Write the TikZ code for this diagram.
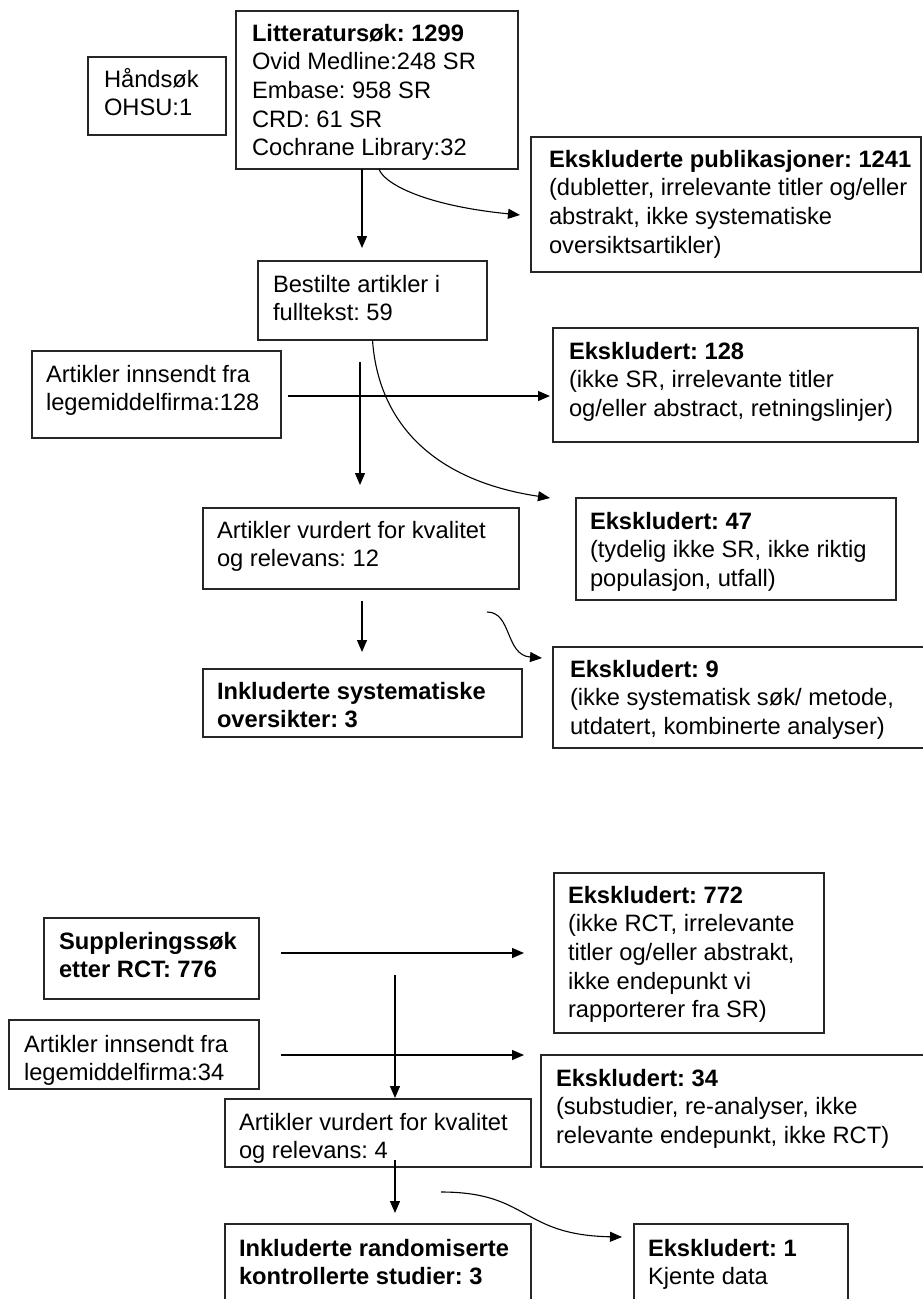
\documentclass[tikz,border=0pt]{standalone}
\usepackage{fontspec}
\setmainfont{Liberation Sans}
\usetikzlibrary{arrows.meta,calc}
\frenchspacing
\newcommand{\fsz}{\fontsize{23.7pt}{28.7pt}\selectfont\frenchspacing}
\newcommand{\mystrut}{\rule{0pt}{22pt}}
\tikzset{
  box/.style={draw=black!85, line width=1.3pt, anchor=north west, inner sep=0pt, outer sep=0pt},
  txt/.style={anchor=north west, inner sep=0pt, outer sep=0pt, align=left, font=\fsz, text=black},
  arr/.style={draw=black, line width=1.3pt, -{Triangle[length=12pt,width=10pt]}},
  carr/.style={draw=black, line width=1.1pt, -{Triangle[length=12pt,width=10pt]}},
}
\begin{document}
\begin{tikzpicture}[x=1pt,y=-1pt]
\useasboundingbox (0,0) rectangle (923,1299);
\fill[white] (0,0) rectangle (923,1299);
\clip (0,0) rectangle (923,1299);

% ---------- boxes ----------
\node[box, minimum width=138pt, minimum height=78pt]  (hand)    at (88,57)   {};
\node[box, minimum width=282pt, minimum height=158pt] (lit)     at (236,11)  {};
\node[box, minimum width=390pt, minimum height=135pt] (eks1241) at (531,137) {};
\node[box, minimum width=229pt, minimum height=79pt]  (best)    at (258,261) {};
\node[box, minimum width=249pt, minimum height=87pt]  (art128)  at (32,351)  {};
\node[box, minimum width=365pt, minimum height=114pt] (eks128)  at (553,328) {};
\node[box, minimum width=316pt, minimum height=81pt]  (vur12)   at (203,508) {};
\node[box, minimum width=320pt, minimum height=102pt] (eks47)   at (576,498) {};
\node[box, minimum width=319pt, minimum height=68pt]  (inkSR)   at (203,669) {};
\node[box, minimum width=380pt, minimum height=101pt] (eks9)    at (553,647) {};
\node[box, minimum width=215pt, minimum height=81pt]  (supp)    at (44,918)  {};
\node[box, minimum width=270pt, minimum height=160pt] (eks772)  at (554,873) {};
\node[box, minimum width=250pt, minimum height=69pt]  (art34)   at (9,1020)  {};
\node[box, minimum width=392pt, minimum height=112pt] (eks34)   at (541,1055) {};
\node[box, minimum width=306pt, minimum height=68pt]  (vur4)    at (225,1099) {};
\node[box, minimum width=306pt, minimum height=90pt]  (inkRCT)  at (225,1224) {};
\node[box, minimum width=214pt, minimum height=90pt]  (eks1)    at (634,1224) {};

% ---------- texts ----------
\node[txt] (handT) at (104,65) {\mystrut Håndsøk\\OHSU:1};
\node[txt] (litT) at (252,19) {\mystrut\textbf{Litteratursøk: 1299}\\Ovid Medline:248 SR\\Embase: 958 SR\\CRD: 61 SR\\Cochrane Library:32};
\node[txt] (eks1241T) at (549,145) {\mystrut\textbf{Ekskluderte publikasjoner: 1241}\\(dubletter, irrelevante titler og/eller\\abstrakt, ikke systematiske\\oversiktsartikler)};
\node[txt] (bestT) at (273,270) {\mystrut Bestilte artikler i\\fulltekst: 59};
\node[txt] (art128T) at (46,360) {\mystrut Artikler innsendt fra\\legemiddelfirma:128};
\node[txt] (eks128T) at (569,337) {\mystrut\textbf{Ekskludert: 128}\\(ikke SR, irrelevante titler\\og/eller abstract, retningslinjer)};
\node[txt] (vur12T) at (217,516) {\mystrut Artikler vurdert for kvalitet\\og relevans: 12};
\node[txt] (eks47T) at (590,507) {\mystrut\textbf{Ekskludert: 47}\\(tydelig ikke SR, ikke riktig\\populasjon, utfall)};
\node[txt] (inkSRT) at (217,677) {\mystrut\textbf{Inkluderte systematiske}\\\textbf{oversikter: 3}};
\node[txt] (eks9T) at (570,655) {\mystrut\textbf{Ekskludert: 9}\\(ikke systematisk søk/ metode,\\utdatert, kombinerte analyser)};
\node[txt] (suppT) at (59,927) {\mystrut\textbf{Suppleringssøk}\\\textbf{etter RCT: 776}};
\node[txt] (eks772T) at (568,881) {\mystrut\textbf{Ekskludert: 772}\\(ikke RCT, irrelevante\\titler og/eller abstrakt,\\ikke endepunkt vi\\rapporterer fra SR)};
\node[txt] (art34T) at (24,1030) {\mystrut Artikler innsendt fra\\legemiddelfirma:34};
\node[txt] (eks34T) at (556,1064) {\mystrut\textbf{Ekskludert: 34}\\(substudier, re-analyser, ikke\\relevante endepunkt, ikke RCT)};
\node[txt] (vur4T) at (239,1108) {\mystrut Artikler vurdert for kvalitet\\og relevans: 4};
\node[txt] (inkRCTT) at (239,1234) {\mystrut\textbf{Inkluderte randomiserte}\\\textbf{kontrollerte studier: 3}};
\node[txt] (eks1T) at (648,1234) {\mystrut\textbf{Ekskludert: 1}\\Kjente data};

% ---------- connector end points ----------
\coordinate (a1) at (362,248);
\coordinate (b1) at (520,215);
\coordinate (c1) at (550,498);
\coordinate (d0) at (288,396);
\coordinate (d1) at (550,396);
\coordinate (e0) at (360,362);
\coordinate (e1) at (360,485);
\coordinate (f0) at (362,601);
\coordinate (f1) at (362,652);
\coordinate (g0) at (487,612);
\coordinate (g1) at (542,658);
\coordinate (h0) at (281,953);
\coordinate (h1) at (524,953);
\coordinate (i0) at (281,1055);
\coordinate (i1) at (524,1055);
\coordinate (j0) at (395,975);
\coordinate (j1) at (395,1098);
\coordinate (k0) at (395,1160);
\coordinate (k1) at (395,1213);
\coordinate (l0) at (441,1192);
\coordinate (l1) at (622,1237);

% ---------- connectors ----------
\draw[arr] (lit.south -| a1) -- (a1);
\draw[carr] ([xshift=2pt]lit.south) .. controls (383,182) and (420,205) .. (b1);
\draw[carr] (best.south) .. controls (378,420) and (430,480) .. (c1);
\draw[arr] (d0) -- (d1);
\draw[arr] (e0) -- (e1);
\draw[arr] (f0) -- (f1);
\draw[carr] (g0) .. controls (512,612) and (505,655) .. (g1);
\draw[arr] (h0) -- (h1);
\draw[arr] (i0) -- (i1);
\draw[arr] (j0) -- (j1);
\draw[arr] (k0) -- (k1);
\draw[carr] (l0) .. controls (530,1192) and (520,1235) .. (l1);
\end{tikzpicture}
\end{document}
